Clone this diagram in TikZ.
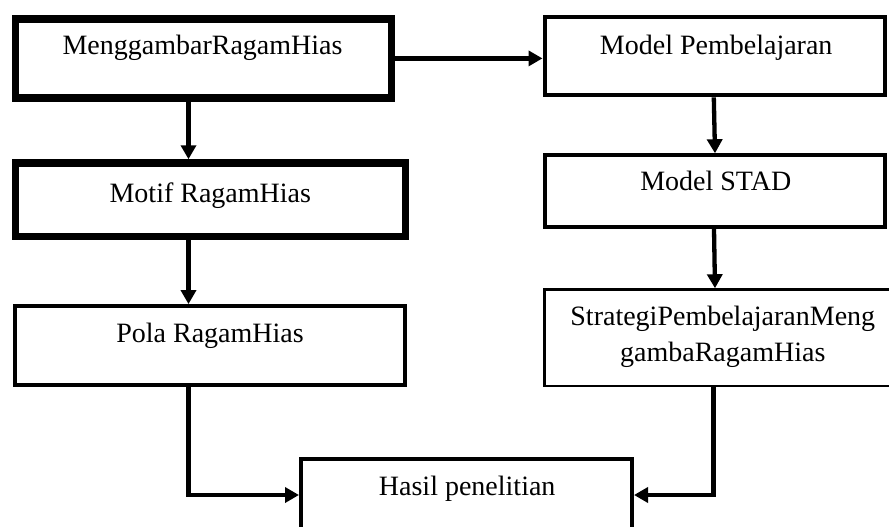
\documentclass[tikz,border=0pt]{standalone}
\usepackage{fontspec}
\setmainfont{Liberation Serif}
\usetikzlibrary{arrows.meta}
\begin{document}
\begin{tikzpicture}[x=1pt,y=-1pt,
  box/.style={draw=black, rectangle, inner sep=0pt},
  lbl/.style={anchor=base, inner sep=0pt, font=\fontsize{28}{36.7}\selectfont, align=center},
  arr/.style={draw=black, line width=4.3pt, -{Triangle[length=14pt,width=15pt]}}]
\clip (0,0) rectangle (889,527);
\fill[white] (0,0) rectangle (889,527);
% boxes
\node[box, line width=7.5pt, minimum width=375.8pt, minimum height=79.2pt] (b1) at (203.4,58.4) {};
\node[box, line width=7.5pt, minimum width=390pt, minimum height=73.3pt] (motif) at (210.5,199.65) {};
\node[box, line width=3.8pt, minimum width=390pt, minimum height=78.7pt] (pola) at (210.3,345.35) {};
\node[box, line width=4pt, minimum width=340pt, minimum height=78.3pt] (b2) at (714.5,56.15) {};
\node[box, line width=4pt, minimum width=340pt, minimum height=71.7pt] (b3) at (714.5,191.15) {};
\node[box, line width=2.5pt, minimum width=347.3pt, minimum height=96.7pt] (b4) at (718.35,337.85) {};
\node[box, line width=4pt, minimum width=331pt, minimum height=81pt] (hasil) at (466.5,499.5) {};
% texts
\node[lbl] (t1) at (202.5,55) {MenggambarRagamHias};
\node[lbl] (tmotif) at (210.3,202.7) {Motif RagamHias};
\node[lbl] (tpola) at (210,342.3) {Pola RagamHias};
\node[lbl] (t2) at (716.2,54.3) {Model Pembelajaran};
\node[lbl] (t3) at (715.8,190.7) {Model STAD};
\node[lbl] (t4) at (722.8,361.7) {StrategiPembelajaranMeng\\gambaRagamHias};
\node[lbl] (t5) at (467.2,495) {Hasil penelitian};
% connectors
\coordinate (lx) at (188.5,0);
\coordinate (rx) at (713.5,0);
\coordinate (jy) at (0,495);
\draw[arr] (b1.east) -- (b1.east -| b2.west);
\draw[arr] (b1.south -| lx) -- (motif.north -| lx);
\draw[arr] (motif.south -| lx) -- (pola.north -| lx);
\draw[arr] ([xshift=-0.7pt]b2.south) -- ([xshift=0.5pt]b3.north);
\draw[arr] ([xshift=-0.5pt]b3.south) -- ([xshift=-3.35pt]b4.north);
\draw[arr] (pola.south -| lx) |- (jy -| hasil.west);
\draw[arr] (b4.south -| rx) |- (jy -| hasil.east);
\end{tikzpicture}
\end{document}
